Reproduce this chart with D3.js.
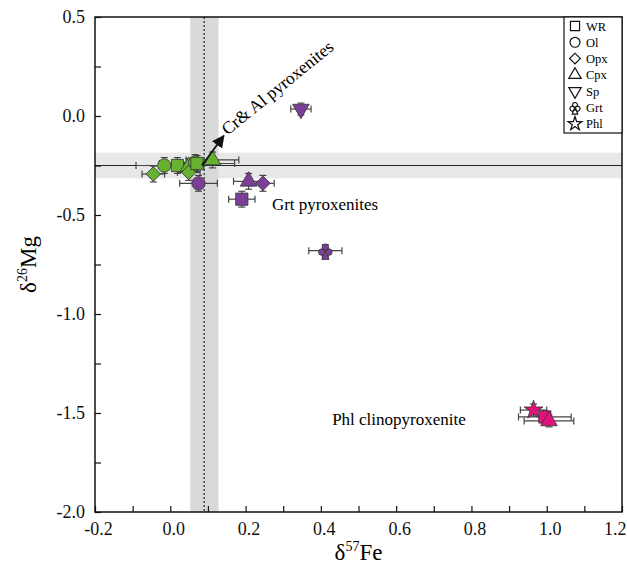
<!DOCTYPE html>
<html>
<head>
<meta charset="utf-8">
<script src="https://cdn.jsdelivr.net/npm/d3@7"></script>
<style>
  body { margin: 0; background: #fff; }
  text { font-family: "Liberation Serif", "Times New Roman", serif; }
</style>
</head>
<body>
<svg id="chart" width="627" height="570"></svg>
<script>
// legend entries
const minerals = ['WR', 'Ol', 'Opx', 'Cpx', 'Sp', 'Grt', 'Phl'];

// Cr & Al pyroxenites (green)
const crAlMineral = ['Ol', 'Opx', 'WR', 'Cpx', 'Opx', 'Ol', 'WR', 'Cpx'];
const crAlFe = [-0.016, -0.045, 0.019, 0.049, 0.049, 0.066, 0.071, 0.112];
const crAlMg = [-0.25, -0.293, -0.25, -0.255, -0.285, -0.235, -0.24, -0.222];
const crAlFeErr = [0.075, 0.03, 0.05, 0.04, 0.03, 0.04, 0.1, 0.07];
const crAlMgErr = [0.04, 0.04, 0.04, 0.04, 0.04, 0.04, 0.04, 0.04];

// Grt pyroxenites (purple)
const grtMineral = ['Ol', 'Cpx', 'Opx', 'WR', 'Sp', 'Grt'];
const grtFe = [0.075, 0.208, 0.246, 0.19, 0.347, 0.412];
const grtMg = [-0.34, -0.33, -0.34, -0.42, 0.035, -0.68];
const grtFeErr = [0.05, 0.04, 0.03, 0.035, 0.027, 0.044];
const grtMgErr = [0.04, 0.04, 0.04, 0.04, 0.03, 0.03];

// Phl clinopyroxenite (pink)
const phlMineral = ['Phl', 'WR', 'Cpx'];
const phlFe = [0.965, 0.995, 1.006];
const phlMg = [-1.485, -1.52, -1.54];
const phlFeErr = [0.035, 0.07, 0.066];
const phlMgErr = [0.03, 0.03, 0.03];

// reference values (mantle)
const mantleFe = 0.09, mantleFeLo = 0.053, mantleFeHi = 0.128;
const mantleMg = -0.25, mantleMgLo = -0.315, mantleMgHi = -0.185;

const svg = d3.select('#chart');
const margin = { top: 17, right: 5, bottom: 58, left: 95 };
const width = 627 - margin.left - margin.right;
const height = 570 - margin.top - margin.bottom;
const g = svg.append('g').attr('transform', `translate(${margin.left},${margin.top})`);

const x = d3.scaleLinear().domain([-0.2, 1.2]).range([0, width]);
const y = d3.scaleLinear().domain([-2.0, 0.5]).range([height, 0]);

// shaded bands
g.append('rect')
  .attr('x', 0).attr('width', width)
  .attr('y', y(mantleMgHi)).attr('height', y(mantleMgLo) - y(mantleMgHi))
  .attr('fill', '#e8e8e8');
g.append('rect')
  .attr('x', x(mantleFeLo)).attr('width', x(mantleFeHi) - x(mantleFeLo))
  .attr('y', 0).attr('height', height)
  .attr('fill', '#d9d9d9');

g.append('line')
  .attr('x1', 0).attr('x2', width)
  .attr('y1', y(mantleMg)).attr('y2', y(mantleMg))
  .attr('stroke', '#222').attr('stroke-width', 1.2);
g.append('line')
  .attr('x1', x(mantleFe)).attr('x2', x(mantleFe))
  .attr('y1', 0).attr('y2', height)
  .attr('stroke', '#222').attr('stroke-width', 1.2)
  .attr('stroke-dasharray', '2,2');

// axes, ticks inside
const fmt = d => {
  const v = Math.round(d * 100) / 100;
  return Math.abs(Math.round(v * 10) % 2) === 0 ? v.toFixed(1) : '';
};
const fmtY = d => {
  const v = Math.round(d * 100) / 100;
  return Math.abs(Math.round(v * 100) % 50) === 0 ? v.toFixed(1) : '';
};

const xAxis = d3.axisBottom(x)
  .tickValues(d3.range(-2, 13).map(i => i / 10))
  .tickFormat(fmt)
  .tickSizeInner(-6).tickSizeOuter(0).tickPadding(10);
const yAxis = d3.axisLeft(y)
  .tickValues(d3.range(-8, 3).map(i => i / 4))
  .tickFormat(fmtY)
  .tickSizeInner(-6).tickSizeOuter(0).tickPadding(10);

const gx = g.append('g').attr('transform', `translate(0,${height})`).call(xAxis);
const gy = g.append('g').call(yAxis);
[gx, gy].forEach(a => {
  a.attr('font-family', null).attr('font-size', null);
  a.select('.domain').remove();
  a.selectAll('line').attr('stroke', '#111').attr('stroke-width', 1.2);
  a.selectAll('text').attr('fill', '#111')
    .style('font-family', '"Liberation Serif", "Times New Roman", serif')
    .style('font-size', '18px');
});
gx.selectAll('text').attr('dx', 3);
gx.selectAll('text').filter(d => Math.abs(d - 1.2) < 1e-6)
  .attr('text-anchor', 'end').attr('dx', 4);

// frame
g.append('rect')
  .attr('width', width).attr('height', height)
  .attr('fill', 'none').attr('stroke', '#111').attr('stroke-width', 1.5);

// axis titles
svg.append('text')
  .attr('x', margin.left + width / 2).attr('y', 560)
  .attr('text-anchor', 'middle').attr('font-size', 23)
  .html('δ<tspan dy="-9" font-size="14">57</tspan><tspan dy="9">Fe</tspan>');
svg.append('text')
  .attr('transform', `translate(36,${margin.top + height / 2}) rotate(-90)`)
  .attr('text-anchor', 'middle').attr('font-size', 23)
  .html('δ<tspan dy="-9" font-size="14">26</tspan><tspan dy="9">Mg</tspan>');

// marker shapes
const clubPath = s => {
  const r = s * 0.3;
  const c = d3.path();
  [[0, -r * 1.05], [-r * 1.05, r * 0.45], [r * 1.05, r * 0.45]].forEach(([cx, cy]) => {
    c.moveTo(cx + r, cy);
    c.arc(cx, cy, r, 0, 2 * Math.PI);
  });
  c.moveTo(-r * 1.1, s * 0.8);
  c.lineTo(r * 1.1, s * 0.8);
  c.lineTo(r * 0.35, r * 0.6);
  c.lineTo(-r * 0.35, r * 0.6);
  c.closePath();
  return c.toString();
};
const shape = (m, k = 1) => {
  switch (m) {
    case 'WR': return d3.symbol(d3.symbolSquare, 150 * k)();
    case 'Ol': return d3.symbol(d3.symbolCircle, 140 * k)();
    case 'Opx': return d3.symbol(d3.symbolSquare, 105 * k)();
    case 'Cpx': return d3.symbol(d3.symbolTriangle, 120 * k)();
    case 'Sp': return d3.symbol(d3.symbolTriangle, 120 * k)();
    case 'Grt': return clubPath(11 * Math.sqrt(k));
    case 'Phl': return d3.symbol(d3.symbolStar, 110 * k)();
  }
};
const turn = m => (m === 'Sp' ? ' rotate(180)' : m === 'Opx' ? ' rotate(45)' : '');

const groups = [
  { mineral: crAlMineral, fe: crAlFe, mg: crAlMg, feErr: crAlFeErr, mgErr: crAlMgErr, color: '#66b032' },
  { mineral: grtMineral, fe: grtFe, mg: grtMg, feErr: grtFeErr, mgErr: grtMgErr, color: '#7b3f98' },
  { mineral: phlMineral, fe: phlFe, mg: phlMg, feErr: phlFeErr, mgErr: phlMgErr, color: '#e2127d' },
];

groups.forEach(grp => {
  const pts = grp.mineral.map((m, i) => ({
    m, fe: grp.fe[i], mg: grp.mg[i], ex: grp.feErr[i], ey: grp.mgErr[i]
  }));
  const eb = g.append('g').selectAll('g').data(pts).join('g')
    .attr('stroke', '#444').attr('stroke-width', 1.2);
  eb.append('line')
    .attr('x1', d => x(d.fe - d.ex)).attr('x2', d => x(d.fe + d.ex))
    .attr('y1', d => y(d.mg)).attr('y2', d => y(d.mg));
  eb.append('line')
    .attr('x1', d => x(d.fe - d.ex)).attr('x2', d => x(d.fe - d.ex))
    .attr('y1', d => y(d.mg) - 3.5).attr('y2', d => y(d.mg) + 3.5);
  eb.append('line')
    .attr('x1', d => x(d.fe + d.ex)).attr('x2', d => x(d.fe + d.ex))
    .attr('y1', d => y(d.mg) - 3.5).attr('y2', d => y(d.mg) + 3.5);
  eb.append('line')
    .attr('x1', d => x(d.fe)).attr('x2', d => x(d.fe))
    .attr('y1', d => y(d.mg + d.ey)).attr('y2', d => y(d.mg - d.ey));
  eb.append('line')
    .attr('x1', d => x(d.fe) - 3.5).attr('x2', d => x(d.fe) + 3.5)
    .attr('y1', d => y(d.mg - d.ey)).attr('y2', d => y(d.mg - d.ey));
  eb.append('line')
    .attr('x1', d => x(d.fe) - 3.5).attr('x2', d => x(d.fe) + 3.5)
    .attr('y1', d => y(d.mg + d.ey)).attr('y2', d => y(d.mg + d.ey));

  g.append('g').selectAll('path').data(pts).join('path')
    .attr('d', d => shape(d.m))
    .attr('transform', d => `translate(${x(d.fe)},${y(d.mg)})${turn(d.m)}`)
    .attr('fill', grp.color)
    .attr('stroke', '#333').attr('stroke-width', 0.8);
});

// annotations
const arrowStart = [0.084, -0.25], arrowEnd = [0.142, -0.1];
svg.append('defs').append('marker')
  .attr('id', 'ah').attr('viewBox', '0 0 10 10').attr('refX', 9).attr('refY', 5)
  .attr('markerWidth', 7).attr('markerHeight', 7).attr('orient', 'auto')
  .append('path').attr('d', 'M0,0 L10,5 L0,10 z').attr('fill', '#111');
g.append('line')
  .attr('x1', x(arrowStart[0])).attr('y1', y(arrowStart[1]))
  .attr('x2', x(arrowEnd[0])).attr('y2', y(arrowEnd[1]))
  .attr('stroke', '#111').attr('stroke-width', 1.8)
  .attr('marker-end', 'url(#ah)');

g.append('text')
  .attr('transform', `translate(${x(0.152)},${y(-0.1)}) rotate(-39)`)
  .attr('font-size', 17.5).text('Cr& Al pyroxenites');
g.append('text')
  .attr('x', x(0.27)).attr('y', y(-0.475))
  .attr('font-size', 17).text('Grt pyroxenites');
g.append('text')
  .attr('x', x(0.43)).attr('y', y(-1.56))
  .attr('font-size', 17).text('Phl clinopyroxenite');

// legend
const lg = g.append('g').attr('transform', `translate(${width - 58},0)`);
lg.append('rect').attr('width', 58).attr('height', 116)
  .attr('fill', '#fff').attr('stroke', '#111').attr('stroke-width', 1.2);
const li = lg.selectAll('g.item').data(minerals).join('g')
  .attr('class', 'item')
  .attr('transform', (d, i) => `translate(11,${9 + i * 16.3})`);
li.append('path')
  .attr('d', d => shape(d, 0.55))
  .attr('transform', d => turn(d) || null)
  .attr('fill', '#fff').attr('stroke', '#111').attr('stroke-width', 1.2);
li.append('text').attr('x', 11).attr('y', 4.5).attr('font-size', 12.5).text(d => d);
</script>
</body>
</html>
